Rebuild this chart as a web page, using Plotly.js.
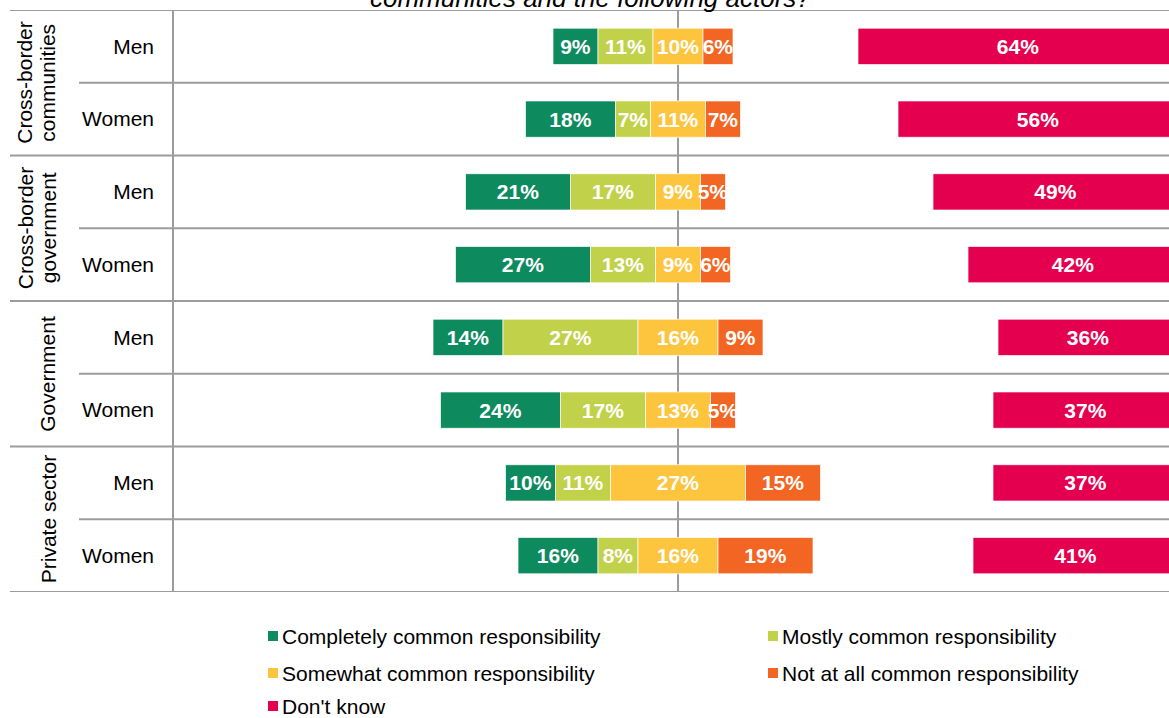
<!DOCTYPE html>
<html>
<head>
<meta charset="utf-8">
<script src="https://cdn.plot.ly/plotly-3.0.1.min.js"></script>
<style>html,body{margin:0;padding:0;background:#fff;}#chart{width:1169px;height:718px;}</style>
</head>
<body>
<div id="chart"></div>
<script>
// ---- data ----
const rowLabels = ['Men', 'Women', 'Men', 'Women', 'Men', 'Women', 'Men', 'Women'];
const groupLabels = [['Cross-border', 'communities'], ['Cross-border', 'government'], ['Government'], ['Private sector']];
const seriesNames = ['Completely common responsibility', 'Mostly common responsibility',
  'Somewhat common responsibility', 'Not at all common responsibility', "Don't know"];
const completely = [9, 18, 21, 27, 14, 24, 10, 16];
const mostly = [11, 7, 17, 13, 27, 17, 11, 8];
const somewhat = [10, 11, 9, 9, 16, 13, 27, 16];
const notAtAll = [6, 7, 5, 6, 9, 5, 15, 19];
const dontKnow = [64, 56, 49, 42, 36, 37, 37, 41];
const titleText = 'communities and the following actors?';

// ---- styling ----
const colors = ['#0E8A5F', '#C2D14A', '#FDC43E', '#F26522', '#E5004F'];
const FONT = 'Liberation Sans, Arial, Helvetica, sans-serif';
const W = 1169, H = 718;
const L = 173, T = 10, B = 126;
const plotW = W - L, plotH = H - T - B;
const px2x = p => (p - L) / plotW;
const px2y = p => (H - B - p) / plotH;

const yPos = rowLabels.map((_, i) => i);
const lbl = v => v.map(x => x + '%');

const baseSomewhat = somewhat.map(s => -s / 2);
const baseMostly = somewhat.map((s, i) => -s / 2 - mostly[i]);
const baseCompletely = somewhat.map((s, i) => -s / 2 - mostly[i] - completely[i]);
const baseNot = somewhat.map(s => s / 2);
const baseDK = dontKnow.map(d => 100 - d);

const values = [completely, mostly, somewhat, notAtAll, dontKnow];
const bases = [baseCompletely, baseMostly, baseSomewhat, baseNot, baseDK];

const traces = values.map((v, k) => ({
  type: 'bar', orientation: 'h', name: seriesNames[k],
  y: yPos, x: v, base: bases[k], width: 0.5,
  marker: {color: colors[k], line: {color: 'rgba(255,255,255,0.7)', width: 1}},
  text: lbl(v), textposition: 'inside', insidetextanchor: 'middle', textangle: 0,
  constraintext: 'none', cliponaxis: true,
  textfont: {family: FONT, size: 21, color: '#ffffff', weight: 'bold'},
  hoverinfo: 'skip', showlegend: false
}));

// ---- shapes: grid lines ----
const lineStyle = {color: '#9c9c9c', width: 2};
const shapes = [];
const groupBounds = [-0.5, 1.5, 3.5, 5.5, 7.5];
groupBounds.forEach(y => shapes.push({type: 'line', xref: 'paper', yref: 'y', x0: px2x(10), x1: 1, y0: y, y1: y, line: lineStyle, layer: 'below'}));
[0.5, 2.5, 4.5, 6.5].forEach(y => shapes.push({type: 'line', xref: 'paper', yref: 'y', x0: px2x(79), x1: 1, y0: y, y1: y, line: lineStyle, layer: 'below'}));
shapes.push({type: 'line', xref: 'paper', yref: 'paper', x0: 0, x1: 0, y0: 0, y1: 1, line: lineStyle, layer: 'below'});
shapes.push({type: 'line', xref: 'x', yref: 'paper', x0: 0, x1: 0, y0: 0, y1: 1, line: lineStyle, layer: 'below'});

// ---- annotations ----
const annotations = [];
// group labels
const gl = (x, y, t) => ({xref: 'paper', yref: 'y', x: px2x(x), y: y, text: t, textangle: -90, showarrow: false,
  xanchor: 'center', yanchor: 'middle', font: {family: FONT, size: 21, color: '#000'}});
groupLabels.forEach((g, gi) => {
  const yc = gi * 2 + 0.5;
  if (g.length === 2) {
    annotations.push(gl(25, yc, g[0]));
    annotations.push(gl(48, yc, g[1]));
  } else {
    annotations.push(gl(48, yc, g[0]));
  }
});
// title fragment (the reference shows only the lower part of its last line)
annotations.push({xref: 'paper', yref: 'paper', x: px2x(590), y: px2y(15), text: '<i>' + titleText + '</i>',
  showarrow: false, xanchor: 'center', yanchor: 'bottom', font: {family: FONT, size: 26, color: '#000'}});

// legend (manual, two columns)
const legPos = [[268, 636], [768, 636], [268, 673], [768, 673], [268, 706]];
seriesNames.forEach((n, k) => {
  const [sx, sy] = legPos[k];
  shapes.push({type: 'rect', xref: 'paper', yref: 'paper', x0: px2x(sx), x1: px2x(sx + 10),
    y0: px2y(sy + 5), y1: px2y(sy - 5), fillcolor: colors[k], line: {width: 0}});
  annotations.push({xref: 'paper', yref: 'paper', x: px2x(sx + 12), y: px2y(sy), text: n, showarrow: false,
    xanchor: 'left', yanchor: 'middle', font: {family: FONT, size: 21, color: '#000'}});
});

const layout = {
  width: W, height: H,
  margin: {l: L, r: 0, t: T, b: B, pad: 0},
  paper_bgcolor: '#fff', plot_bgcolor: '#fff',
  barmode: 'overlay', bargap: 0.5,
  showlegend: false,
  font: {family: FONT, size: 21, color: '#000'},
  xaxis: {range: [-101, 98.2], showgrid: false, zeroline: false, showticklabels: false, ticks: '', fixedrange: true},
  yaxis: {range: [7.5, -0.5], tickvals: yPos, ticktext: rowLabels, showgrid: false, zeroline: false,
    ticks: '', ticklabelstandoff: 18, tickfont: {family: FONT, size: 21, color: '#000'}, fixedrange: true},
  shapes: shapes, annotations: annotations
};

Plotly.newPlot('chart', traces, layout, {displayModeBar: false, staticPlot: true});
</script>
</body>
</html>
